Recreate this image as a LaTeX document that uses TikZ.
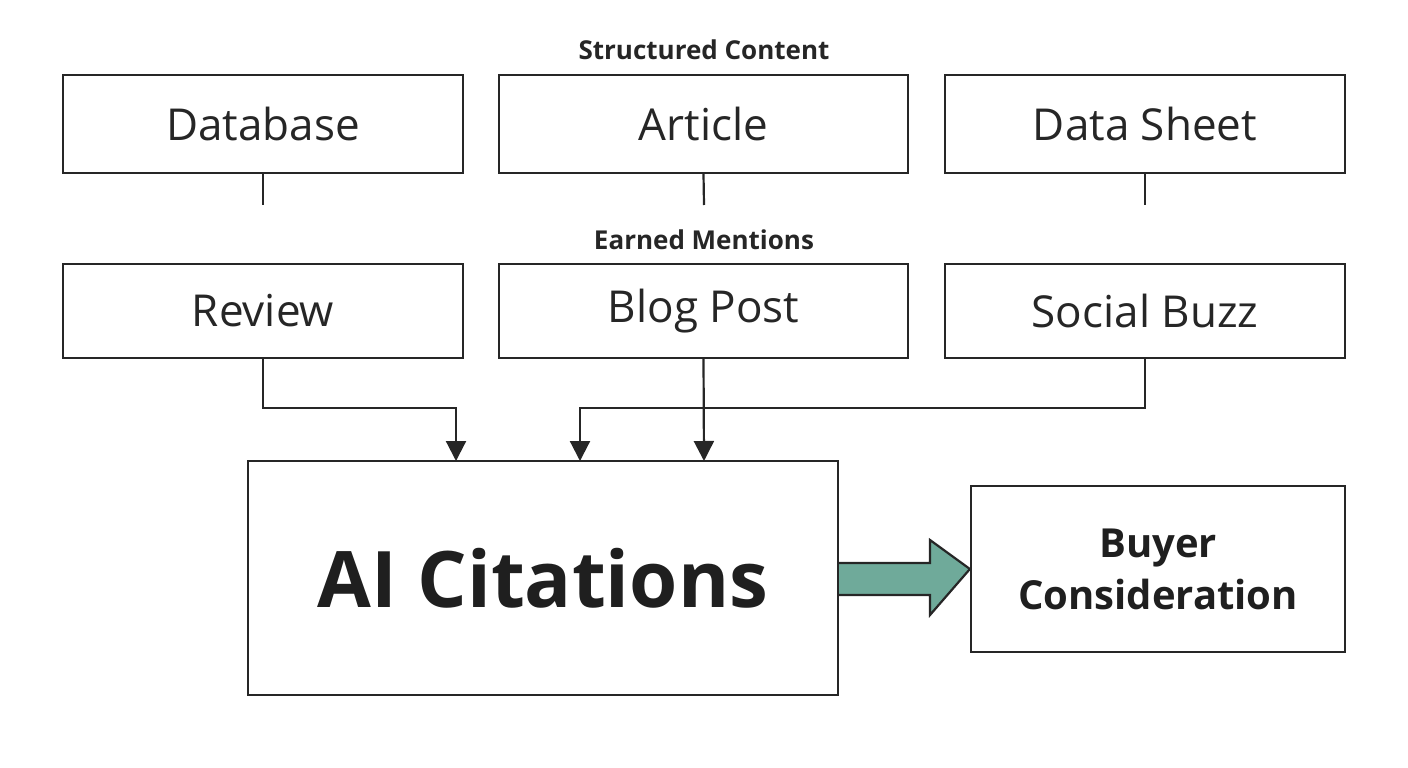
\documentclass[tikz,border=0pt]{standalone}
\usepackage{fontspec}
\setmainfont{Open Sans}
\usetikzlibrary{arrows.meta}
\definecolor{teal1}{HTML}{6FAA9A}
\begin{document}
\begin{tikzpicture}[x=1pt,y=-1pt,
 box/.style={draw=black!85,line width=2.2pt,inner sep=0pt},
 lbl/.style={font=\fontsize{44}{50}\selectfont,text=black!85},
 conn/.style={draw=black!85,line width=2.2pt},
 arr/.style={conn,-{Triangle[length=20pt,width=20pt]}}]
\useasboundingbox (0,0) rectangle (1408,768);
\node[box,minimum width=400pt,minimum height=98pt,lbl] (db) at (263,124) {Database};
\node[box,minimum width=409pt,minimum height=98pt,lbl] (ar) at (703.5,124) {Article};
\node[box,minimum width=400pt,minimum height=98pt,lbl] (ds) at (1145,124) {Data Sheet};
\node[box,minimum width=400pt,minimum height=94pt,lbl] (rv) at (263,311) {Review};
\node[box,minimum width=409pt,minimum height=94pt,lbl] (bp) at (703.5,311) {Blog Post};
\node[box,minimum width=400pt,minimum height=94pt,lbl] (sb) at (1145,311) {Social Buzz};
\node[font=\fontsize{26}{30}\selectfont\bfseries,text=black!85] (sc) at (704,50) {Structured Content};
\node[font=\fontsize{26}{30}\selectfont\bfseries,text=black!85] (em) at (704,240) {Earned Mentions};
\node[box,minimum width=590pt,minimum height=234pt,font=\fontsize{78}{90}\selectfont\bfseries,text=black!88] (ai) at (543,578) {AI Citations};
\node[draw=black!85,line width=2.2pt,minimum width=374pt,minimum height=166pt,font=\fontsize{40}{52}\selectfont\bfseries,text=black!88,align=center] (bc) at (1158,569) {Buyer\\Consideration};
\coordinate (s1) at (263,205); \coordinate (s2) at (704,205); \coordinate (s3) at (1145,205);
\draw[conn] (db.south) -- (s1);
\draw[conn] (ar.south) -- (s2);
\draw[conn] (ds.south) -- (s3);
\draw[arr] (rv.south) |- (456,408) -- (456,461);
\draw[arr] (bp.south) -- (704,461);
\draw[arr] (sb.south) |- (580,408) -- (580,461);
\fill[fill=teal1,draw=black!85,line width=2.2pt] (ai.east |- 0,563) -- (930,563) -- (930,540) -- (bc.west) -- (930,615) -- (930,595) -- (ai.east |- 0,595);
\end{tikzpicture}
\end{document}
